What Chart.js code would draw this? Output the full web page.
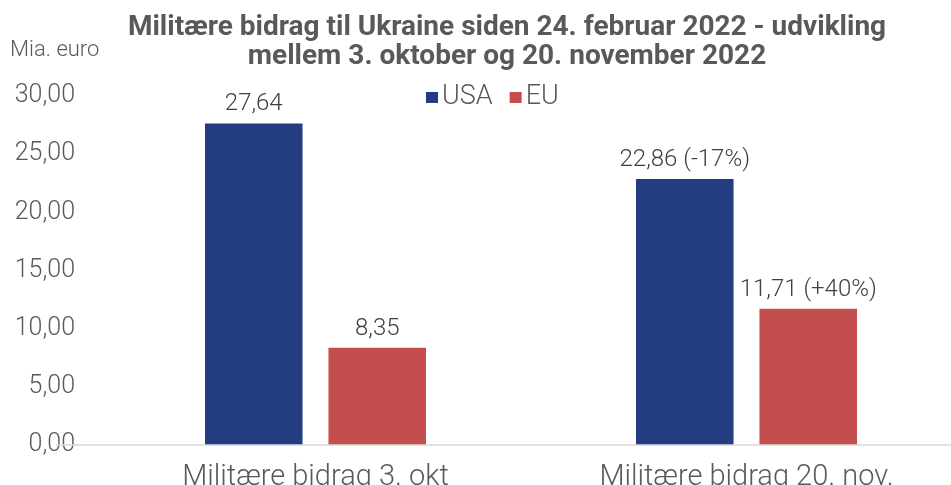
<!DOCTYPE html>
<html>
<head>
<meta charset="utf-8">
<script src="https://cdn.jsdelivr.net/npm/chart.js@4"></script>
<style>
  html, body { margin: 0; padding: 0; background: #fff; }
</style>
</head>
<body>
<canvas id="bidragChart" width="951" height="485"></canvas>
<script>
const CATEGORIES = ['Militære bidrag 3. okt', 'Militære bidrag 20. nov.'];
const USA_VALUES = [27.64, 22.86];
const EU_VALUES = [8.35, 11.71];
const Y_TICKS = [0, 5, 10, 15, 20, 25, 30];

const USA_COLOR = '#243c80';
const EU_COLOR = '#c44e4e';
const TEXT_COLOR = '#595959';
const FONT = 'Roboto';

const fmt = v => v.toFixed(2).replace('.', ',');

// value labels, legend, unit label and baseline drawn on top of the chart
const extras = {
  id: 'extras',
  afterLayout(chart) {
    // the original plot area runs a little past the right edge of the picture
    const x = chart.scales.x;
    x.right = 962;
    x.width = x.right - x.left;
    x.configure();
    chart.titleBlock.left = 52;
    chart.titleBlock.right = 962;
  },
  afterDatasetsDraw(chart) {
    const { ctx, scales } = chart;
    ctx.save();

    // baseline
    const y0 = scales.y.getPixelForValue(0);
    ctx.strokeStyle = '#d9d9d9';
    ctx.lineWidth = 1.5;
    ctx.beginPath();
    ctx.moveTo(56, y0);
    ctx.lineTo(chart.width, y0);
    ctx.stroke();

    // value labels
    ctx.fillStyle = '#404040';
    ctx.font = `300 24px ${FONT}`;
    ctx.textAlign = 'center';
    ctx.textBaseline = 'alphabetic';
    chart.data.datasets.forEach((ds, di) => {
      chart.getDatasetMeta(di).data.forEach((bar, i) => {
        let txt = fmt(ds.data[i]);
        if (i > 0) {
          const pct = Math.round((ds.data[i] / ds.data[0] - 1) * 100);
          txt += ` (${pct > 0 ? '+' : ''}${pct}%)`;
        }
        ctx.fillText(txt, bar.x, bar.y - 13);
      });
    });

    // unit
    ctx.fillStyle = TEXT_COLOR;
    ctx.font = `300 22px ${FONT}`;
    ctx.textAlign = 'left';
    ctx.textBaseline = 'middle';
    ctx.fillText('Mia. euro', 10, 50);

    // legend
    ctx.font = `300 27px ${FONT}`;
    ctx.textBaseline = 'alphabetic';
    let x = 426;
    chart.data.datasets.forEach(ds => {
      ctx.fillStyle = ds.backgroundColor;
      ctx.fillRect(x, 92, 12, 11);
      ctx.fillStyle = TEXT_COLOR;
      ctx.fillText(ds.label, x + 16, 104);
      x += 16 + ctx.measureText(ds.label).width + 17;
    });

    ctx.restore();
  },
};

new Chart(document.getElementById('bidragChart'), {
  type: 'bar',
  data: {
    labels: CATEGORIES,
    datasets: [
      { label: 'USA', data: USA_VALUES, backgroundColor: USA_COLOR },
      { label: 'EU', data: EU_VALUES, backgroundColor: EU_COLOR },
    ],
  },
  options: {
    responsive: false,
    animation: false,
    categoryPercentage: 0.573,
    barPercentage: 0.79,
    layout: { padding: 0 },
    plugins: {
      legend: { display: false },
      tooltip: { enabled: false },
      title: {
        display: true,
        text: [
          'Militære bidrag til Ukraine siden 24. februar 2022 - udvikling',
          'mellem 3. oktober og 20. november 2022',
        ],
        color: TEXT_COLOR,
        font: { family: FONT, size: 28, weight: 'bold', lineHeight: 1.04 },
        padding: { top: 13.4, bottom: 24.4 },
      },
    },
    scales: {
      x: {
        grid: { display: false },
        border: { display: false },
        ticks: { color: TEXT_COLOR, font: { family: FONT, size: 29, weight: 300 }, padding: 7 },
        afterFit: scale => { scale.height = 40; },
      },
      y: {
        min: 0,
        max: 30,
        afterBuildTicks: scale => { scale.ticks = Y_TICKS.map(value => ({ value })); },
        grid: { display: false },
        border: { display: false },
        ticks: { color: TEXT_COLOR, font: { family: FONT, size: 25, weight: 300 }, padding: 17, callback: v => fmt(v) },
        afterFit: scale => { scale.width = 100; },
      },
    },
  },
  plugins: [extras],
});
</script>
</body>
</html>
